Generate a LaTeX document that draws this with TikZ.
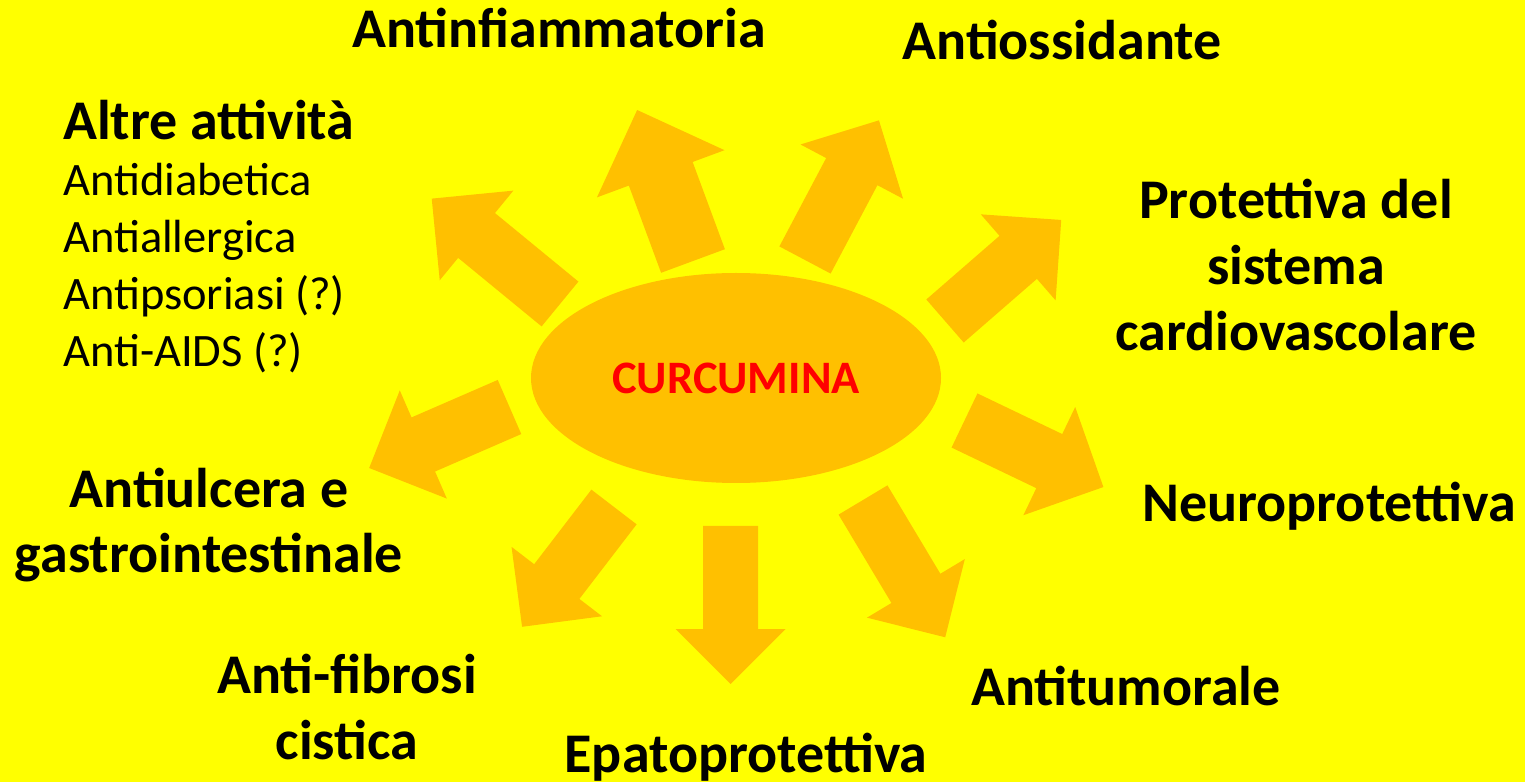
\documentclass[tikz,border=0pt]{standalone}
\usepackage{fontspec}
\setmainfont{Carlito}
\usetikzlibrary{shapes.geometric}
\definecolor{giallo}{RGB}{255,255,0}
\definecolor{arancio}{RGB}{255,192,0}
\begin{document}
\begin{tikzpicture}[x=1pt,y=1pt,
	freccia/.style={fill=arancio},
	titolo/.style={font=\fontsize{56}{66}\selectfont\bfseries,align=center,inner sep=0pt},
	voce/.style={font=\fontsize{46.5}{57}\selectfont,align=left,inner sep=0pt}]
	\fill[giallo] (0,0) rectangle (1525,782);
	\useasboundingbox (0,0) rectangle (1525,782);
	\node[ellipse,fill=arancio,minimum width=410pt,minimum height=210pt,text=red,
		font=\fontsize{46.5}{55}\selectfont\bfseries] (curc) at (736,404) {CURCUMINA};
	% frecce: coda x/y, angolo, lunghezza, larghezza
	\foreach \x/\y/\a/\l/\w in {560/478/140.6/166/58, 693/521/110.3/161/68,
		805/522/62.1/158/58, 945/461/41/154/57, 964.5/361.5/-25.6/154/60,
		863/282/-59.1/160/57, 730.5/256/-90/158/55, 614/275/-127.5/151/57,
		509.5/375/-156.5/153/59}
		\fill[freccia,shift={(\x,\y)},rotate=\a] (0,-\w/2) -- (\l-\w,-\w/2) -- (\l-\w,-\w)
			-- (\l,0) -- (\l-\w,\w) -- (\l-\w,\w/2) -- (0,\w/2) -- cycle;
	% testi (base = ultima riga)
	\node[titolo,anchor=base] (antinf) at (559,734) {Antinfiammatoria};
	\node[titolo,anchor=base] (antioss) at (1062,722) {Antiossidante};
	\node[titolo,anchor=base west] (altre) at (63,642) {Altre attività};
	\node[voce,anchor=base west] (lista) at (63,415) {Antidiabetica\\Antiallergica\\Antipsoriasi (?)\\Anti-AIDS (?)};
	\node[titolo,anchor=base] (protett) at (1296,431) {Protettiva del\\sistema\\cardiovascolare};
	\node[titolo,anchor=base] (neuro) at (1329,260) {Neuroprotettiva};
	\node[titolo,anchor=base] (antitum) at (1126,77) {Antitumorale};
	\node[titolo,anchor=base] (epato) at (746,10) {Epatoprotettiva};
	\node[titolo,anchor=base] (fibrosi) at (347,23) {Anti-fibrosi\\cistica};
	\node[titolo,anchor=base] (ulcera) at (209,209) {Antiulcera e\\gastrointestinale};
\end{tikzpicture}
\end{document}
